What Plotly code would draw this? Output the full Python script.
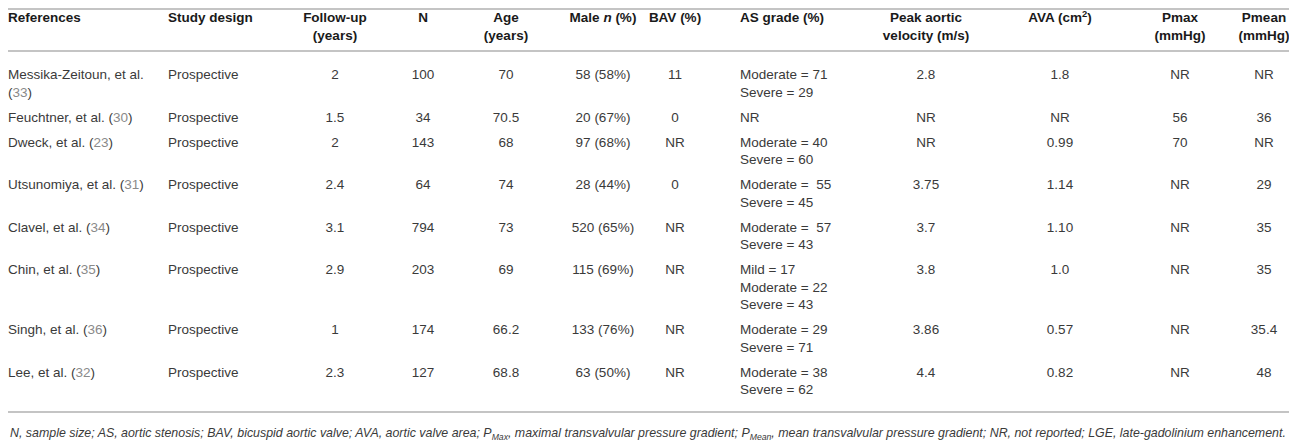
import plotly.graph_objects as go

# table content
headers = ["References", "Study design", "Follow-up<br>(years)", "N", "Age<br>(years)",
           "Male <i>n</i> (%)", "BAV (%)", "AS grade (%)", "Peak aortic<br>velocity (m/s)",
           "AVA (cm<sup>2</sup>)", "Pmax<br>(mmHg)", "Pmean<br>(mmHg)"]

authors = ["Messika-Zeitoun, et al.", "Feuchtner, et al.", "Dweck, et al.", "Utsunomiya, et al.",
           "Clavel, et al.", "Chin, et al.", "Singh, et al.", "Lee, et al."]
ref_nums = ["33", "30", "23", "31", "34", "35", "36", "32"]
study_design = ["Prospective"] * 8
follow_up = ["2", "1.5", "2", "2.4", "3.1", "2.9", "1", "2.3"]
n_size = ["100", "34", "143", "64", "794", "203", "174", "127"]
age = ["70", "70.5", "68", "74", "73", "69", "66.2", "68.8"]
male = ["58 (58%)", "20 (67%)", "97 (68%)", "28 (44%)", "520 (65%)", "115 (69%)", "133 (76%)", "63 (50%)"]
bav = ["11", "0", "NR", "0", "NR", "NR", "NR", "NR"]
as_grade = ["Moderate = 71<br>Severe = 29", "NR", "Moderate = 40<br>Severe = 60",
            "Moderate =  55<br>Severe = 45", "Moderate =  57<br>Severe = 43",
            "Mild = 17<br>Moderate = 22<br>Severe = 43", "Moderate = 29<br>Severe = 71",
            "Moderate = 38<br>Severe = 62"]
peak_velocity = ["2.8", "NR", "NR", "3.75", "3.7", "3.8", "3.86", "4.4"]
ava = ["1.8", "NR", "0.99", "1.14", "1.10", "1.0", "0.57", "0.82"]
pmax = ["NR", "56", "70", "NR", "NR", "NR", "NR", "NR"]
pmean = ["NR", "36", "NR", "29", "35", "35", "35.4", "48"]

footnote = ("<i>N, sample size; AS, aortic stenosis; BAV, bicuspid aortic valve; AVA, aortic valve area; "
            "P<sub>Max</sub>, maximal transvalvular pressure gradient; P<sub>Mean</sub>, mean transvalvular "
            "pressure gradient; NR, not reported; LGE, late-gadolinium enhancement.</i>")

# the reference column wraps for the first study
references = []
for i, (a, r) in enumerate(zip(authors, ref_nums)):
    sep = "<br>" if i == 0 else " "
    references.append(a + sep + '(<span style="color:#8a8a8a">' + r + '</span>)')

columns = [references, study_design, follow_up, n_size, age, male, bav, as_grade,
           peak_velocity, ava, pmax, pmean]

# layout of columns (x position, anchor)
col_x = [8, 168, 335, 423, 506, 603, 675, 740, 926, 1060, 1180, 1264]
col_align = ["left", "left", "center", "center", "center", "center", "center", "left",
             "center", "center", "center", "center"]

# page body keeps an 8px margin, so the axes are offset to map data units onto page pixels
W, H, PAD = 1297, 445, 8
LINE_H = 17.5
ROW_GAP = 7.5
HEADER_Y = 19
BODY_Y = 76
FONT = "Liberation Sans, Arial, sans-serif"
FS = 13.5

n_lines = [max(col[i].count("<br>") + 1 for col in columns) for i in range(len(authors))]
row_y = []
y = BODY_Y
for nl in n_lines:
    row_y.append(y)
    y += nl * LINE_H + ROW_GAP

fig = go.Figure()

for c, col in enumerate(columns):
    pos = "middle right" if col_align[c] == "left" else "middle center"
    xs, ys, texts = [], [], []
    for k, line in enumerate(headers[c].split("<br>")):
        xs.append(col_x[c]); ys.append(HEADER_Y + k * LINE_H); texts.append("<b>" + line + "</b>")
    fig.add_trace(go.Scatter(x=xs, y=ys, text=texts, mode="text", textposition=pos,
                             textfont=dict(family=FONT, size=FS, color="#1a1a1a"),
                             cliponaxis=False, hoverinfo="skip", showlegend=False))
    xs, ys, texts = [], [], []
    for i, cell in enumerate(col):
        for k, line in enumerate(cell.split("<br>")):
            xs.append(col_x[c]); ys.append(row_y[i] + k * LINE_H); texts.append(line)
    fig.add_trace(go.Scatter(x=xs, y=ys, text=texts, mode="text", textposition=pos,
                             textfont=dict(family=FONT, size=FS, color="#3a3a3a"),
                             cliponaxis=False, hoverinfo="skip", showlegend=False))

# horizontal rules: top, under the header, bottom
for ry in [9, 51, 412]:
    fig.add_shape(type="line", x0=PAD, x1=W, y0=ry, y1=ry, xref="x", yref="y",
                  line=dict(color="#c4c4c4", width=2))

fig.add_annotation(x=PAD, y=434, xref="x", yref="y", text=footnote, showarrow=False,
                   xanchor="left", yanchor="middle",
                   font=dict(family=FONT, size=12.4, color="#3a3a3a"))

fig.update_layout(
    width=W - PAD, height=H - PAD,
    margin=dict(l=0, r=0, t=0, b=0),
    paper_bgcolor="white", plot_bgcolor="white",
    xaxis=dict(range=[PAD, W], visible=False, fixedrange=True),
    yaxis=dict(range=[H, PAD], visible=False, fixedrange=True),
    hovermode=False,
)

fig.write_html("out.html")
